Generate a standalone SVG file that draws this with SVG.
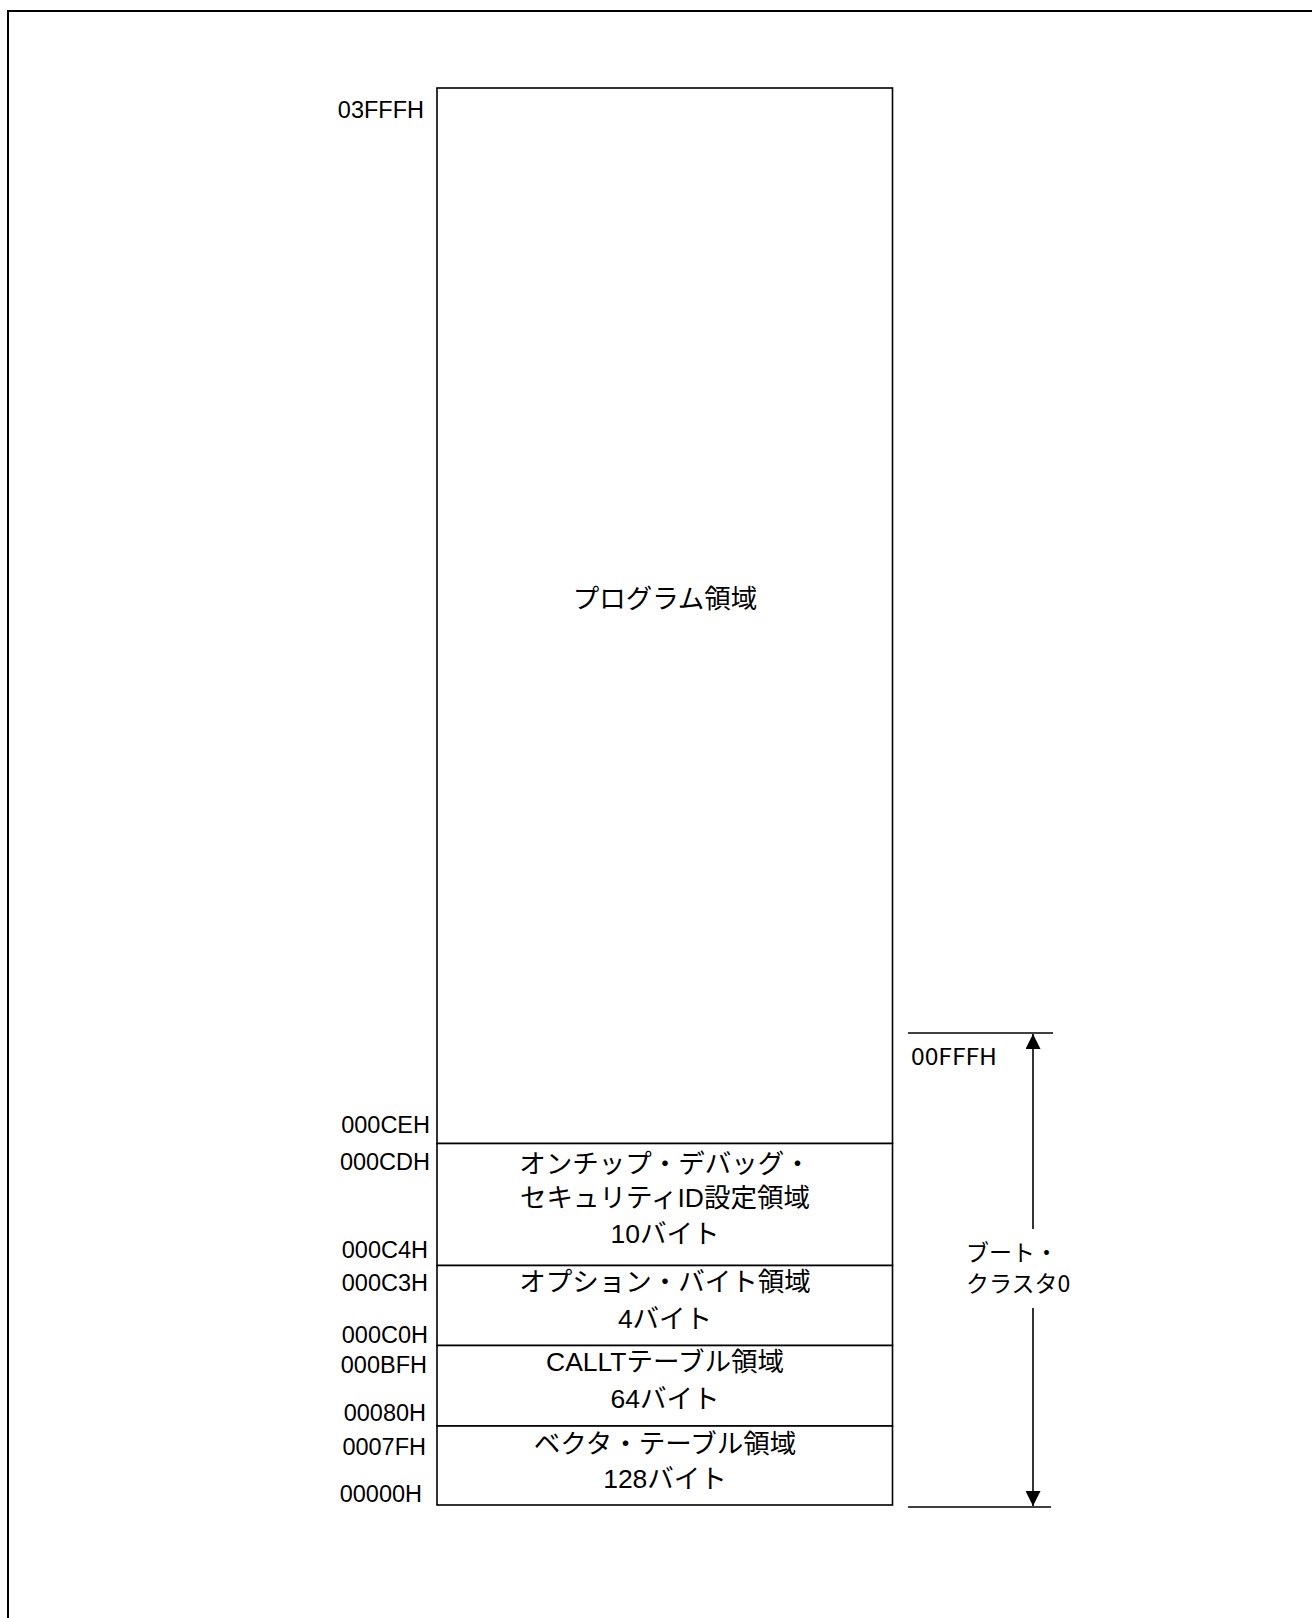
<svg xmlns="http://www.w3.org/2000/svg" width="1312" height="1618" viewBox="0 0 1312 1618">
<style>
.box{fill:#fff;stroke:#000;stroke-width:1.6}
.addr{font-family:"Liberation Sans","Noto Sans CJK JP",sans-serif;font-size:23.5px;fill:#000;text-anchor:end}
.lbl{font-family:"Liberation Sans","Noto Sans CJK JP",sans-serif;font-size:26.5px;fill:#000;text-anchor:middle}
.side{font-family:"Noto Sans CJK JP",sans-serif;font-size:23px;fill:#000}
.ln{stroke:#000;stroke-width:1.6;fill:none}
</style>
<defs>
<marker id="arr" viewBox="0 0 15 15" refX="15" refY="7.5" markerWidth="15" markerHeight="15" markerUnits="userSpaceOnUse" orient="auto">
<path d="M0,0 L15,7.5 L0,15 z" fill="#000"/>
</marker>
</defs>
<rect width="1312" height="1618" fill="#fff"/>
<path d="M8,1618 V11 H1312" fill="none" stroke="#000" stroke-width="2"/>
<g id="program-area">
<rect class="box" x="437" y="88" width="455.5" height="1055.5"/>
<text class="lbl" x="665" y="608">プログラム領域</text>
</g>
<g id="ocd-security-id">
<rect class="box" x="437" y="1143.5" width="455.5" height="122"/>
<text class="lbl" x="665" y="1173">オンチップ・デバッグ・</text>
<text class="lbl" x="665" y="1207">セキュリティID設定領域</text>
<text class="lbl" x="665" y="1243">10バイト</text>
</g>
<g id="option-byte">
<rect class="box" x="437" y="1265.5" width="455.5" height="80"/>
<text class="lbl" x="665" y="1291">オプション・バイト領域</text>
<text class="lbl" x="665" y="1328">4バイト</text>
</g>
<g id="callt-table">
<rect class="box" x="437" y="1345.5" width="455.5" height="80.5"/>
<text class="lbl" x="665" y="1371">CALLTテーブル領域</text>
<text class="lbl" x="665" y="1408">64バイト</text>
</g>
<g id="vector-table">
<rect class="box" x="437" y="1426" width="455.5" height="79"/>
<text class="lbl" x="665" y="1453">ベクタ・テーブル領域</text>
<text class="lbl" x="665" y="1488">128バイト</text>
</g>
<g id="addresses">
<text class="addr" x="424" y="118">03FFFH</text>
<text class="addr" x="430" y="1133">000CEH</text>
<text class="addr" x="430" y="1170">000CDH</text>
<text class="addr" x="428" y="1258">000C4H</text>
<text class="addr" x="428" y="1291">000C3H</text>
<text class="addr" x="428" y="1343">000C0H</text>
<text class="addr" x="427" y="1373">000BFH</text>
<text class="addr" x="426" y="1421">00080H</text>
<text class="addr" x="426" y="1455">0007FH</text>
<text class="addr" x="422" y="1502">00000H</text>
</g>
<g id="boot-cluster0">
<text class="side" x="911" y="1065" textLength="86" lengthAdjust="spacingAndGlyphs">00FFFH</text>
<text class="side" x="966" y="1261">ブート・</text>
<text class="side" x="966" y="1292">クラスタ0</text>
</g>
<g id="connectors">
<line class="ln" x1="908" y1="1033" x2="1053" y2="1033"/>
<line class="ln" x1="908" y1="1507" x2="1051" y2="1507"/>
<line class="ln" x1="1033" y1="1229" x2="1033" y2="1034" marker-end="url(#arr)"/>
<line class="ln" x1="1033" y1="1308" x2="1033" y2="1506" marker-end="url(#arr)"/>
</g>
</svg>
